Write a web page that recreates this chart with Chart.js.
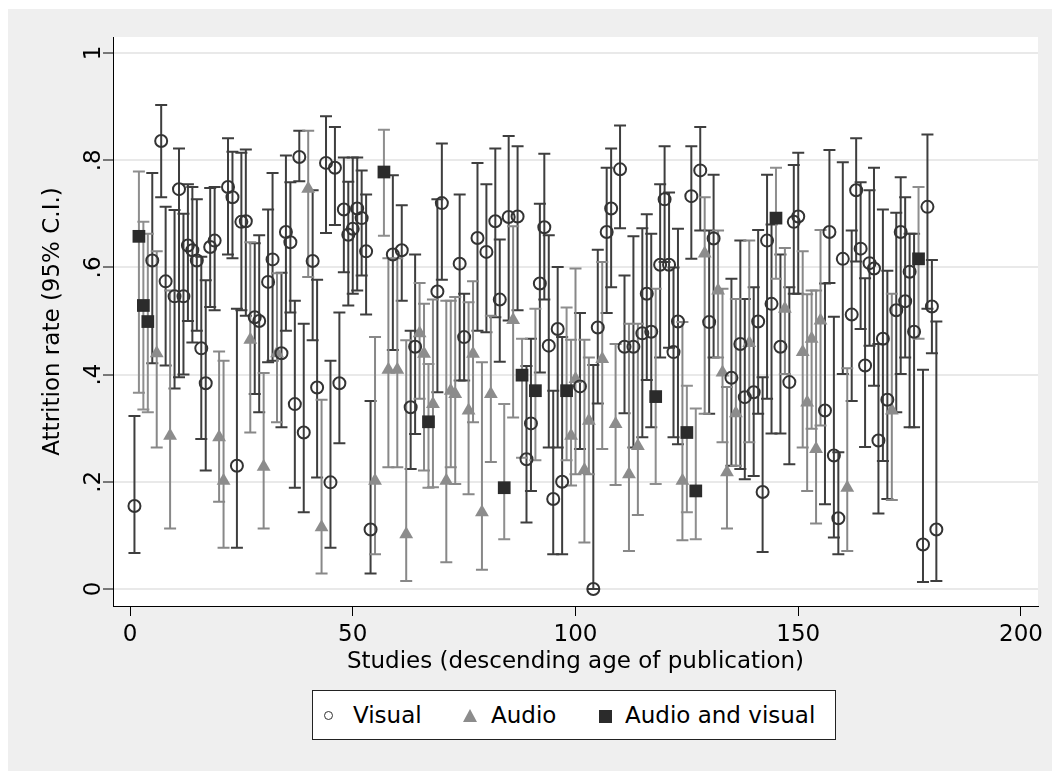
<!DOCTYPE html>
<html>
<head>
<meta charset="utf-8">
<title>Attrition rate by study</title>
<script src="https://cdn.jsdelivr.net/npm/chart.js@4.4.1/dist/chart.umd.min.js"></script>
<style>
  html, body { margin: 0; padding: 0; background: #ffffff; }
  #wrap { position: relative; width: 1052px; height: 771px; }
  #legend {
    position: absolute; left: 312px; top: 690px; width: 524px; height: 50px;
    box-sizing: border-box; border: 1px solid #222; background: #ffffff;
    font-family: "DejaVu Sans", sans-serif; font-size: 23px; color: #000;
  }
  #legend span { position: absolute; }
  #legend .txt { top: 11px; line-height: 27px; }
  .mk-circle { width: 7px; height: 7px; border: 1.5px solid #333; border-radius: 50%; top: 20px; }
  .mk-tri { width: 0; height: 0; border-left: 7px solid transparent; border-right: 7px solid transparent; border-bottom: 13px solid #8c8c8c; top: 18px; }
  .mk-sq { width: 13px; height: 13px; background: #2b2b2b; top: 19px; }
</style>
</head>
<body>
<div id="wrap">
  <canvas id="chart" width="1052" height="771"></canvas>
  <div id="legend">
    <span class="mk-circle" style="left:11px"></span><span class="txt" style="left:40px">Visual</span>
    <span class="mk-tri" style="left:150px"></span><span class="txt" style="left:178px">Audio</span>
    <span class="mk-sq" style="left:286px"></span><span class="txt" style="left:312px">Audio and visual</span>
  </div>
</div>
<script>
// Visual studies: study number, attrition rate, 95% CI low / high
const visualStudy = [1,5,7,8,10,11,12,13,14,15,16,17,18,19,22,23,24,25,26,28,29,31,32,34,35,36,37,38,39,41,42,44,45,46,47,48,49,50,51,52,53,54,59,61,63,64,69,70,74,75,78,80,82,83,85,87,89,90,92,93,94,95,96,97,101,104,105,107,108,110,111,113,115,116,117,119,120,121,122,123,126,128,130,131,135,137,138,140,141,142,143,144,146,148,149,150,156,157,158,159,160,162,163,164,165,166,167,168,169,170,172,173,174,175,176,178,179,180,181];
const visualRate = [0.155,0.613,0.836,0.574,0.546,0.746,0.546,0.641,0.632,0.613,0.449,0.384,0.638,0.65,0.75,0.731,0.23,0.685,0.686,0.507,0.5,0.573,0.615,0.44,0.666,0.647,0.345,0.806,0.292,0.612,0.376,0.795,0.199,0.786,0.384,0.708,0.661,0.672,0.71,0.692,0.63,0.111,0.624,0.632,0.339,0.452,0.555,0.72,0.607,0.47,0.655,0.629,0.686,0.54,0.694,0.695,0.242,0.309,0.57,0.675,0.454,0.168,0.485,0.2,0.378,0,0.488,0.666,0.71,0.783,0.452,0.452,0.477,0.551,0.48,0.605,0.727,0.605,0.442,0.499,0.733,0.781,0.498,0.654,0.394,0.457,0.358,0.367,0.499,0.181,0.65,0.532,0.452,0.386,0.685,0.695,0.333,0.666,0.249,0.132,0.616,0.512,0.744,0.635,0.417,0.608,0.598,0.277,0.467,0.353,0.52,0.666,0.537,0.592,0.48,0.083,0.713,0.527,0.111];
const visualLow = [0.067,0.421,0.731,0.417,0.374,0.395,0.40,0.50,0.46,0.482,0.28,0.221,0.526,0.52,0.624,0.617,0.077,0.52,0.51,0.364,0.33,0.423,0.426,0.302,0.482,0.516,0.189,0.761,0.143,0.464,0.208,0.664,0.077,0.679,0.272,0.591,0.529,0.551,0.557,0.585,0.512,0.029,0.446,0.538,0.224,0.289,0.367,0.577,0.389,0.389,0.482,0.479,0.507,0.424,0.501,0.52,0.124,0.183,0.404,0.54,0.264,0.065,0.264,0.065,0.261,0,0.346,0.515,0.563,0.673,0.328,0.264,0.283,0.39,0.302,0.432,0.61,0.45,0.283,0.27,0.616,0.669,0.327,0.432,0.23,0.224,0.205,0.211,0.327,0.069,0.355,0.29,0.29,0.233,0.551,0.551,0.158,0.571,0.096,0.065,0.401,0.351,0.611,0.485,0.265,0.454,0.379,0.141,0.239,0.168,0.33,0.401,0.432,0.302,0.302,0.013,0.523,0.44,0.015];
const visualHigh = [0.323,0.776,0.903,0.713,0.707,0.822,0.70,0.755,0.75,0.727,0.62,0.576,0.748,0.75,0.841,0.816,0.523,0.814,0.82,0.645,0.66,0.708,0.776,0.59,0.809,0.759,0.538,0.855,0.495,0.744,0.577,0.882,0.426,0.862,0.516,0.805,0.76,0.805,0.805,0.781,0.736,0.351,0.772,0.716,0.482,0.624,0.727,0.831,0.736,0.551,0.795,0.755,0.822,0.652,0.845,0.826,0.416,0.467,0.719,0.812,0.66,0.37,0.601,0.47,0.515,0.418,0.633,0.786,0.822,0.865,0.585,0.658,0.673,0.699,0.663,0.755,0.826,0.74,0.60,0.672,0.826,0.862,0.669,0.773,0.579,0.65,0.541,0.563,0.67,0.395,0.773,0.68,0.624,0.563,0.791,0.814,0.57,0.819,0.508,0.255,0.796,0.669,0.841,0.759,0.58,0.744,0.786,0.457,0.708,0.594,0.702,0.768,0.731,0.663,0.663,0.409,0.848,0.614,0.499];

// Audio studies
const audioStudy = [6,9,20,21,27,30,33,40,43,55,58,60,62,65,66,68,71,72,73,76,77,79,81,86,99,100,102,103,106,109,112,114,124,129,132,133,134,136,139,147,151,152,153,154,155,161,171];
const audioRate = [0.44,0.286,0.283,0.202,0.465,0.228,0.44,0.747,0.115,0.202,0.409,0.409,0.102,0.477,0.439,0.345,0.202,0.37,0.364,0.333,0.439,0.143,0.364,0.502,0.286,0.392,0.222,0.314,0.429,0.308,0.214,0.267,0.202,0.626,0.557,0.404,0.218,0.328,0.459,0.523,0.442,0.348,0.467,0.261,0.501,0.189,0.333];
const audioLow = [0.264,0.113,0.163,0.077,0.292,0.113,0.311,0.582,0.029,0.065,0.227,0.227,0.015,0.355,0.221,0.19,0.05,0.227,0.196,0.177,0.311,0.036,0.237,0.32,0.193,0.214,0.087,0.214,0.261,0.194,0.071,0.138,0.091,0.327,0.432,0.274,0.113,0.23,0.274,0.401,0.264,0.183,0.299,0.122,0.305,0.071,0.166];
const audioHigh = [0.63,0.557,0.443,0.426,0.647,0.403,0.589,0.855,0.353,0.47,0.617,0.617,0.464,0.571,0.532,0.54,0.538,0.538,0.545,0.535,0.574,0.423,0.51,0.677,0.465,0.598,0.465,0.432,0.61,0.457,0.495,0.495,0.498,0.731,0.669,0.56,0.377,0.541,0.65,0.636,0.63,0.55,0.557,0.557,0.67,0.412,0.551];

// Audio and visual studies
const bothStudy = [2,3,4,57,67,84,88,91,98,118,125,127,145,177];
const bothRate = [0.658,0.529,0.499,0.778,0.312,0.189,0.399,0.37,0.37,0.359,0.292,0.183,0.692,0.616];
const bothLow = [0.366,0.335,0.33,0.659,0.189,0.093,0.245,0.24,0.24,0.196,0.143,0.093,0.579,0.467];
const bothHigh = [0.779,0.685,0.663,0.857,0.42,0.345,0.467,0.523,0.525,0.56,0.379,0.337,0.786,0.75];

const xTickValues = [0, 50, 100, 150, 200];
const yTickValues = [0, 0.2, 0.4, 0.6, 0.8, 1];
const yTickLabels = ['0', '.2', '.4', '.6', '.8', '1'];

const FONT = '"DejaVu Sans", sans-serif';

function toPoints(study, rate, low, high) {
  return study.map((s, i) => ({ x: s, y: rate[i], lo: low[i], hi: high[i] }));
}

// grey page with white plot region, like the Stata graph
const backgroundPlugin = {
  id: 'stataBackground',
  beforeDraw(chart) {
    const { ctx, chartArea } = chart;
    ctx.save();
    ctx.fillStyle = '#ffffff';
    ctx.fillRect(0, 0, chart.width, chart.height);
    ctx.fillStyle = '#efefef';
    ctx.fillRect(8, 9, chart.width - 8, chart.height - 9);
    ctx.fillStyle = '#ffffff';
    ctx.fillRect(chartArea.left, chartArea.top, chartArea.right - chartArea.left, chartArea.bottom - chartArea.top);
    ctx.restore();
  }
};

// capped 95% CI bars, drawn under the markers
const errorBarPlugin = {
  id: 'errorBars',
  beforeDatasetsDraw(chart) {
    const { ctx } = chart;
    const xs = chart.scales.x, ys = chart.scales.y;
    ctx.save();
    ctx.lineWidth = 2;
    chart.data.datasets.forEach((ds, i) => {
      if (!chart.isDatasetVisible(i)) return;
      ctx.strokeStyle = ds.barColor;
      ds.data.forEach(p => {
        const x = xs.getPixelForValue(p.x);
        const yl = ys.getPixelForValue(p.lo);
        const yh = ys.getPixelForValue(p.hi);
        ctx.beginPath();
        ctx.moveTo(x, yl); ctx.lineTo(x, yh);
        ctx.moveTo(x - 6, yl); ctx.lineTo(x + 6, yl);
        ctx.moveTo(x - 6, yh); ctx.lineTo(x + 6, yh);
        ctx.stroke();
      });
    });
    ctx.restore();
  }
};

// vertical y tick labels (Stata style)
const yLabelPlugin = {
  id: 'yLabels',
  afterDraw(chart) {
    const { ctx } = chart;
    const ys = chart.scales.y;
    ctx.save();
    ctx.fillStyle = '#000';
    ctx.font = '23px ' + FONT;
    ctx.textAlign = 'center';
    ctx.textBaseline = 'middle';
    yTickValues.forEach((v, i) => {
      ctx.save();
      ctx.translate(ys.right - 19, ys.getPixelForValue(v));
      ctx.rotate(-Math.PI / 2);
      ctx.fillText(yTickLabels[i], 0, 0);
      ctx.restore();
    });
    ctx.restore();
  }
};

document.addEventListener('DOMContentLoaded', function () {
  const ctx = document.getElementById('chart').getContext('2d');
  new Chart(ctx, {
    type: 'scatter',
    data: {
      datasets: [
        {
          label: 'Visual',
          data: toPoints(visualStudy, visualRate, visualLow, visualHigh),
          pointStyle: 'circle',
          pointRadius: 6,
          borderWidth: 2,
          borderColor: '#333333',
          backgroundColor: 'rgba(0,0,0,0)',
          barColor: '#3e3e3e'
        },
        {
          label: 'Audio',
          data: toPoints(audioStudy, audioRate, audioLow, audioHigh),
          pointStyle: 'triangle',
          pointRadius: 8,
          borderWidth: 0,
          borderColor: '#8c8c8c',
          backgroundColor: '#8c8c8c',
          barColor: '#888888'
        },
        {
          label: 'Audio and visual',
          data: toPoints(bothStudy, bothRate, bothLow, bothHigh),
          pointStyle: 'rect',
          pointRadius: 9,
          borderWidth: 0,
          borderColor: '#2b2b2b',
          backgroundColor: '#2b2b2b',
          barColor: '#8e8e8e'
        }
      ]
    },
    options: {
      responsive: false,
      animation: false,
      devicePixelRatio: 1,
      layout: { padding: { left: 0, top: 37, right: 14, bottom: 95 } },
      plugins: {
        legend: { display: false },
        tooltip: { enabled: false }
      },
      scales: {
        x: {
          type: 'linear',
          min: -3.816,
          max: 203.816,
          afterBuildTicks: scale => { scale.ticks = xTickValues.map(v => ({ value: v })); },
          afterFit: scale => { scale.height = 70; },
          border: { display: true, color: '#000', width: 1 },
          grid: { drawOnChartArea: false, drawTicks: true, tickLength: 10, tickColor: '#000', tickWidth: 1 },
          ticks: { color: '#000', font: { family: FONT, size: 23 }, padding: 5, maxRotation: 0 },
          title: {
            display: true,
            text: 'Studies (descending age of publication)',
            color: '#000',
            font: { family: FONT, size: 23 },
            padding: { top: 0, bottom: 0 }
          }
        },
        y: {
          type: 'linear',
          min: -0.0317,
          max: 1.0299,
          afterBuildTicks: scale => { scale.ticks = yTickValues.map(v => ({ value: v })); },
          afterFit: scale => { scale.width = 113; },
          border: { display: true, color: '#000', width: 1 },
          grid: { color: '#e9e9e9', lineWidth: 2, drawTicks: true, tickLength: 10, tickColor: '#000', tickWidth: 1 },
          ticks: { display: false },
          title: {
            display: true,
            text: 'Attrition rate (95% C.I.)',
            color: '#000',
            font: { family: FONT, size: 23 },
            padding: { top: 39, bottom: 0 }
          }
        }
      }
    },
    plugins: [backgroundPlugin, errorBarPlugin, yLabelPlugin]
  });
});
</script>
</body>
</html>
